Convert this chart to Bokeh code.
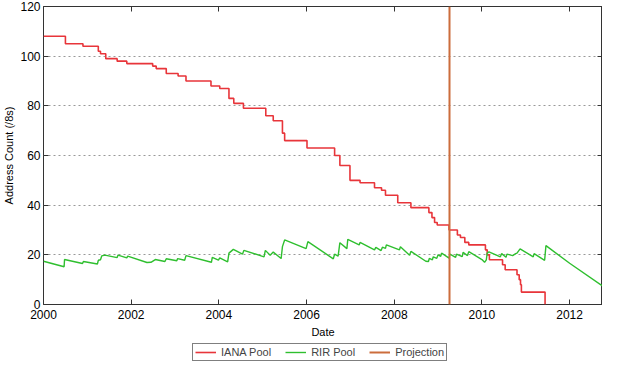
from bokeh.plotting import figure
from bokeh.layouts import column
from bokeh.models import (Range1d, FixedTicker, LinearAxis, Legend, LegendItem,
                          NumeralTickFormatter, CustomJSTickFormatter)
from bokeh.embed import file_html
from bokeh.resources import INLINE

# ---------------- data ----------------
iana_dates = [2000.0, 2000.50, 2000.90, 2001.25, 2001.30, 2001.42, 2001.68, 2001.90,
              2002.49, 2002.57, 2002.80, 2003.07, 2003.25, 2003.82, 2004.02, 2004.23,
              2004.34, 2004.56, 2005.07, 2005.24, 2005.45, 2005.50, 2006.01, 2006.64,
              2006.76, 2006.99, 2007.22, 2007.55, 2007.71, 2007.80, 2008.08, 2008.38,
              2008.79, 2008.86, 2008.92, 2008.98, 2009.25, 2009.44, 2009.51, 2009.61,
              2009.70, 2010.08, 2010.12, 2010.17, 2010.47, 2010.53, 2010.80, 2010.85,
              2010.88, 2010.90, 2011.44]
iana_pool = [108, 105, 104, 102, 101, 99, 98, 97,
             96, 95, 93, 92, 90, 88, 87, 83,
             81, 79, 76, 74, 69, 66, 63, 60,
             56, 50, 49, 47, 46, 44, 41, 39,
             37, 35, 33, 32, 30, 28, 27, 25,
             24, 22, 20, 18, 16, 14, 12, 10,
             8, 5, 0]

rir_dates = [2000.00, 2000.47, 2000.48, 2000.89, 2000.91, 2001.23, 2001.25, 2001.30,
             2001.33, 2001.40, 2001.68, 2001.70, 2001.90, 2001.92, 2002.36, 2002.45,
             2002.55, 2002.77, 2002.80, 2003.04, 2003.06, 2003.22, 2003.25, 2003.83,
             2003.85, 2003.99, 2004.02, 2004.20, 2004.23, 2004.33, 2004.54, 2004.57,
             2005.03, 2005.06, 2005.17, 2005.24, 2005.42, 2005.45, 2005.50, 2005.99,
             2006.03, 2006.61, 2006.64, 2006.72, 2006.76, 2006.92, 2006.94, 2007.20,
             2007.22, 2007.55, 2007.58, 2007.70, 2007.73, 2007.80, 2007.82, 2008.12,
             2008.14, 2008.35, 2008.38, 2008.72, 2008.78, 2008.80, 2008.87, 2008.89,
             2008.97, 2009.00, 2009.06, 2009.08, 2009.25, 2009.27, 2009.40, 2009.42,
             2009.55, 2009.57, 2009.67, 2009.70, 2010.00, 2010.06, 2010.10, 2010.12,
             2010.16, 2010.42, 2010.45, 2010.55, 2010.57, 2010.70, 2010.77, 2010.80,
             2010.87, 2011.17, 2011.19, 2011.43, 2011.46, 2012.00, 2012.75]
rir_pool = [17.4, 15.2, 18.1, 16.5, 17.3, 16.3, 17.8, 18.0,
            19.6, 19.9, 18.9, 19.9, 18.8, 19.5, 16.9, 17.0,
            18.1, 17.3, 18.4, 17.6, 18.5, 17.8, 19.7, 17.0,
            19.0, 17.9, 18.8, 17.2, 20.7, 22.2, 20.3, 21.8,
            19.2, 21.8, 19.8, 21.1, 18.5, 23.3, 26.0, 22.5,
            25.3, 18.4, 20.3, 19.5, 24.9, 22.5, 26.2, 24.0,
            25.0, 22.0, 23.0, 21.7, 23.1, 22.6, 24.0, 22.0,
            23.3, 19.8, 21.4, 17.4, 17.3, 18.6, 18.0, 19.2,
            18.6, 20.0, 19.4, 20.7, 18.7, 20.3, 19.0, 20.3,
            19.3, 21.0, 19.7, 21.3, 18.1, 17.0, 18.0, 20.7,
            21.2, 19.2, 20.5, 19.0, 20.3, 19.7, 20.5, 20.7,
            22.4, 19.2, 20.5, 17.8, 23.7, 16.6, 7.5]

projection_date = [2009.25]

x_ticks = [2000, 2002, 2004, 2006, 2008, 2010, 2012]
y_ticks = [0, 20, 40, 60, 80, 100, 120]

RED = "#e8353a"
GREEN = "#2fbf2f"
ORANGE = "#cc6d3c"
FONT = "Liberation Sans"

p = figure(width=602, height=340, output_backend="svg", toolbar_location=None,
           x_range=Range1d(2000, 2012.75), y_range=Range1d(0, 120),
           min_border_left=0, min_border_right=0, min_border_top=6, min_border_bottom=34,
           x_axis_label="Date", y_axis_label="Address Count (/8s)")
p.background_fill_color = "white"
p.outline_line_color = "#333333"
p.outline_line_width = 1

for ax in (p.xaxis[0], p.yaxis[0]):
    ax.axis_line_color = None
    ax.major_tick_in = 5
    ax.major_tick_out = 0
    ax.minor_tick_in = 0
    ax.minor_tick_out = 0
    ax.major_tick_line_color = "#333333"
    ax.major_label_text_font = FONT
    ax.major_label_text_font_size = "12px"
    ax.major_label_text_color = "black"
    ax.axis_label_text_font = FONT
    ax.axis_label_text_font_size = "11px"
    ax.axis_label_text_font_style = "normal"
    ax.axis_label_text_color = "black"

p.xaxis[0].ticker = FixedTicker(ticks=x_ticks)
p.xaxis[0].formatter = NumeralTickFormatter(format="0")
p.xaxis[0].major_label_standoff = 5
p.xaxis[0].axis_label_standoff = 4
p.yaxis[0].ticker = FixedTicker(ticks=y_ticks)
p.yaxis[0].major_label_standoff = 3
p.yaxis[0].axis_label_standoff = 2

blank = CustomJSTickFormatter(code="return ''")
top = LinearAxis(ticker=FixedTicker(ticks=x_ticks), formatter=blank, axis_line_color=None,
                 major_tick_in=5, major_tick_out=0, minor_tick_in=0, minor_tick_out=0,
                 major_tick_line_color="#333333", major_label_standoff=0,
                 axis_label_standoff=0)
right = LinearAxis(ticker=FixedTicker(ticks=y_ticks), formatter=blank, axis_line_color=None,
                   major_tick_in=5, major_tick_out=0, minor_tick_in=0, minor_tick_out=0,
                   major_tick_line_color="#333333", major_label_standoff=0,
                   axis_label_standoff=0)
p.add_layout(top, "above")
p.add_layout(right, "right")

p.xgrid.grid_line_color = None
p.ygrid.ticker = FixedTicker(ticks=y_ticks)
p.ygrid.grid_line_color = "#999999"
p.ygrid.grid_line_dash = "2 3"
p.ygrid.grid_line_width = 1

p.step(iana_dates, iana_pool, mode="after", line_color=RED, line_width=1.6)
p.line(rir_dates, rir_pool, line_color=GREEN, line_width=1.4)
p.vspan(x=projection_date, line_color=ORANGE, line_width=2)

# ---- legend strip below the plot (same series & styles, kept out of view) ----
lf = figure(width=602, height=22, output_backend="svg", toolbar_location=None,
            x_axis_type=None, y_axis_type=None, min_border=0,
            x_range=Range1d(0, 1), y_range=Range1d(0, 1))
lf.outline_line_color = None
lf.grid.visible = False
l_iana = lf.line(iana_dates, iana_pool, line_color=RED, line_width=1.6)
l_rir = lf.line(rir_dates, rir_pool, line_color=GREEN, line_width=1.4)
l_proj = lf.vspan(x=projection_date, line_color=ORANGE, line_width=2)

legend = Legend(items=[LegendItem(label="IANA Pool", renderers=[l_iana]),
                       LegendItem(label="RIR Pool", renderers=[l_rir]),
                       LegendItem(label="Projection", renderers=[l_proj])],
                orientation="horizontal", location=(149, 1),
                border_line_color="black", border_line_width=1,
                label_text_font=FONT, label_text_font_size="11px",
                glyph_width=21, glyph_height=12, label_height=12,
                padding=2, spacing=14, margin=0, label_standoff=5)
lf.add_layout(legend, "center")

layout = column(p, lf, spacing=0)
open("out.html", "w").write(file_html(layout, INLINE))
